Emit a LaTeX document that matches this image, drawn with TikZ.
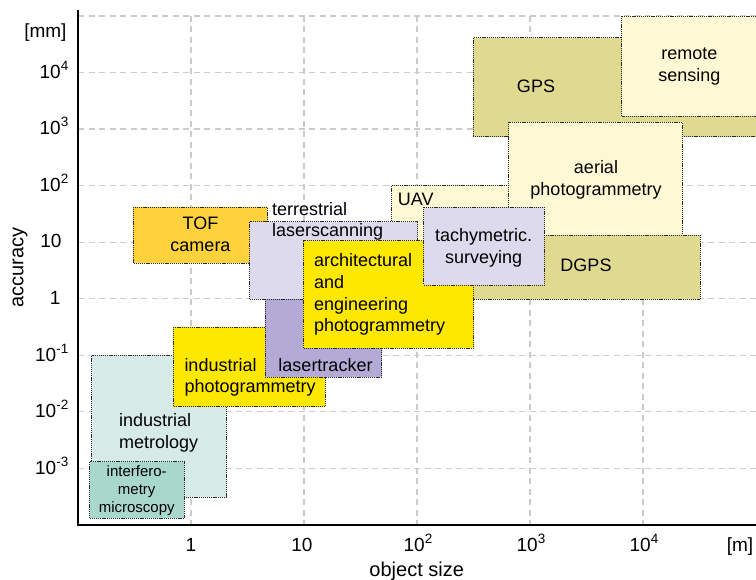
\documentclass[tikz,border=0pt]{standalone}
\usepackage{fontspec}
\setmainfont{Liberation Sans}

% fills of the technique boxes
\definecolor{tofgold}{HTML}{FDD23C}
\definecolor{lavlight}{HTML}{DCDAEC}
\definecolor{brightyel}{HTML}{FFE800}
\definecolor{cream}{HTML}{FFF8D4}
\definecolor{khaki}{HTML}{E0D990}
\definecolor{tracker}{HTML}{B3ABD5}
\definecolor{metro}{HTML}{D6EAE8}
\definecolor{interf}{HTML}{A8D8CC}
\definecolor{gridgray}{HTML}{CBCBCB}
\definecolor{edgegray}{HTML}{2A2A2A}

% power of ten label
\newcommand{\pten}[1]{10\raisebox{0.42em}{\fontsize{13.5}{14}\selectfont #1}}

\begin{document}
\begin{tikzpicture}[x=1pt,y=-1pt,
  gridline/.style={gridgray, line width=1.3pt, dash pattern=on 6pt off 4.5pt},
  axisline/.style={black, line width=1.4pt},
  techbox/.style={draw=edgegray, line width=0.9pt, dash pattern=on 1.1pt off 0.8pt},
  ticklbl/.style={font=\fontsize{19}{22}\selectfont, inner sep=0pt},
  axtitle/.style={font=\fontsize{20}{24}\selectfont, inner sep=0pt},
  boxlbl/.style={font=\fontsize{18}{21.7}\selectfont, inner sep=0pt, align=center},
  boxlbll/.style={font=\fontsize{18}{21.7}\selectfont, inner sep=0pt, align=left, anchor=west},
  smalllbl/.style={font=\fontsize{15}{18}\selectfont, inner sep=0pt, align=center}
]
\useasboundingbox (0,0) rectangle (756,580);
\fill[white] (0,0) rectangle (756,580);

% grid: one decade = 113 (x) and 56.55 (y)
\foreach \gx in {191,304,417,530,643}
  \draw[gridline] (\gx,16) -- (\gx,525);
\foreach \gy in {16,72.5,129.1,185.6,242.2,298.7,355.3,411.8,468.3}
  \draw[gridline] (78,\gy) -- (756,\gy);

% technique boxes, back to front
\draw[techbox, fill=khaki] (473.3,37.7) rectangle (758,136.7);
\draw[techbox, fill=cream] (621.7,16) rectangle (758,116);
\draw[techbox, fill=cream] (391.5,185.7) rectangle (509,260);
\draw[techbox, fill=cream] (508.7,122.3) rectangle (682.7,245);
\draw[techbox, fill=khaki] (473.3,235.3) rectangle (700,299);
\draw[techbox, fill=tofgold] (133.3,207.3) rectangle (267.5,263.5);
\draw[techbox, fill=metro] (91.7,355.7) rectangle (226.3,497);
\draw[techbox, fill=interf] (89.7,461.7) rectangle (184.3,518.3);
\draw[techbox, fill=brightyel] (173.3,327.3) rectangle (325,406.7);
\draw[techbox, fill=tracker] (265.3,297.5) rectangle (381.7,377.3);
\draw[techbox, fill=lavlight] (249.5,221.7) rectangle (417.7,299);
\draw[techbox, fill=brightyel] (303.3,240.7) rectangle (473.7,348.3);
\draw[techbox, fill=lavlight] (423.7,207.3) rectangle (544.3,285);

% box labels
\node[boxlbl] (gps) at (536,86) {GPS};
\node[boxlbl] (remote) at (689.3,66.5) {remote\\sensing};
\node[boxlbl] (aerial) at (596,179.5) {aerial\\photogrammetry};
\node[boxlbl] (dgps) at (586,265.7) {DGPS};
\node[boxlbll] (uav) at (397.7,199.3) {UAV};
\node[boxlbl] (tach) at (483.7,247.7) {tachymetric.\\surveying};
\node[boxlbl] (tof) at (200.5,234.4) {TOF\\camera};
\node[boxlbll] (tls) at (272,221.2) {terrestrial\\laserscanning};
\node[boxlbll] (arch) at (314,294.5) {architectural\\and\\engineering\\photogrammetry};
\node[boxlbl] (tracklbl) at (325.5,365.2) {lasertracker};
\node[boxlbll] (indph) at (184.3,377.2) {industrial\\photogrammetry};
\node[boxlbll] (indmet) at (119,432.9) {industrial\\metrology};
\node[smalllbl] (interfero) at (136.7,490.8) {interfero-\\metry\\microscopy};

% axes
\coordinate (ytop) at (78,10);
\coordinate (orig) at (78,525);
\coordinate (xend) at (756,525);
\draw[axisline] (ytop) -- (orig) -- (xend);

% y tick labels
\node[ticklbl, anchor=base east] (ymm) at (66.7,37.3) {[mm]};
\node[ticklbl, anchor=base east] (y4) at (68.5,78.3) {\pten{4}};
\node[ticklbl, anchor=base east] (y3) at (68.5,134.9) {\pten{3}};
\node[ticklbl, anchor=base east] (y2) at (68.5,191.4) {\pten{2}};
\node[ticklbl, anchor=base east] (y1) at (61.7,248.0) {10};
\node[ticklbl, anchor=base east] (y0) at (60.7,304.5) {1};
\node[ticklbl, anchor=base east] (ym1) at (68.5,361.1) {\pten{-1}};
\node[ticklbl, anchor=base east] (ym2) at (68.5,417.6) {\pten{-2}};
\node[ticklbl, anchor=base east] (ym3) at (68.5,474.1) {\pten{-3}};

% x tick labels
\node[ticklbl, anchor=base] (x0) at (191,551.7) {1};
\node[ticklbl, anchor=base] (x1) at (302,551.7) {10};
\node[ticklbl, anchor=base] (x2) at (418,551.7) {\pten{2}};
\node[ticklbl, anchor=base] (x3) at (531,551.7) {\pten{3}};
\node[ticklbl, anchor=base] (x4) at (644,551.7) {\pten{4}};
\node[ticklbl, anchor=base] (xm) at (740,551.7) {[m]};

% axis titles
\node[axtitle, anchor=base] (xtitle) at (416.7,576.5) {object size};
\node[axtitle, anchor=base, rotate=90] (ytitle) at (23.3,267.5) {accuracy};
\end{tikzpicture}
\end{document}
